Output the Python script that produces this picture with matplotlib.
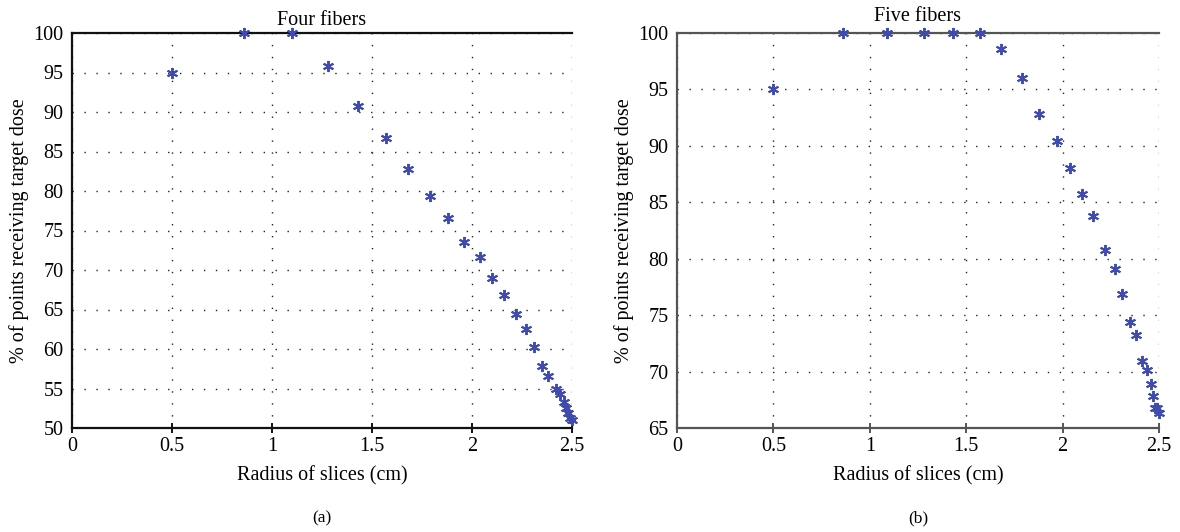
import matplotlib
matplotlib.use("Agg")
import matplotlib.pyplot as plt
import numpy as np

# ---- data ----
radius_four = [0.5, 0.86, 1.10, 1.28, 1.43, 1.57, 1.68, 1.79, 1.88, 1.96, 2.04, 2.10,
               2.16, 2.22, 2.27, 2.31, 2.35, 2.38, 2.42, 2.44, 2.46, 2.47, 2.48, 2.49, 2.50]
pct_four = [95.0, 100.0, 100.0, 95.8, 90.7, 86.7, 82.8, 79.4, 76.6, 73.6, 71.7, 69.0,
            66.8, 64.4, 62.5, 60.2, 57.9, 56.6, 55.0, 54.3, 53.3, 52.5, 51.9, 51.3, 51.0]

radius_five = [0.5, 0.86, 1.09, 1.28, 1.43, 1.57, 1.68, 1.79, 1.88, 1.97, 2.04, 2.10,
               2.16, 2.22, 2.27, 2.31, 2.35, 2.38, 2.41, 2.44, 2.46, 2.47, 2.48, 2.49, 2.50]
pct_five = [95.0, 100.0, 100.0, 100.0, 100.0, 100.0, 98.6, 96.0, 92.8, 90.4, 88.0, 85.7,
            83.8, 80.8, 79.1, 76.9, 74.4, 73.2, 70.9, 70.1, 68.9, 67.8, 66.8, 66.8, 66.3]

x_ticks = [0, 0.5, 1, 1.5, 2, 2.5]
x_ticklabels = ["0", "0.5", "1", "1.5", "2", "2.5"]
y_ticks_four = [50, 55, 60, 65, 70, 75, 80, 85, 90, 95, 100]
y_ticks_five = [65, 70, 75, 80, 85, 90, 95, 100]

titles = ["Four fibers", "Five fibers"]
xlabel = "Radius of slices (cm)"
ylabel = "% of points receiving target dose"
panel_labels = ["(a)", "(b)"]

plt.rcParams['font.family'] = ['Liberation Serif', 'DejaVu Serif']

fig = plt.figure(figsize=(11.8, 5.32), dpi=100)
W, H = 1180, 532
axA = fig.add_axes([72 / W, (H - 428) / H, 500 / W, 395 / H])
axB = fig.add_axes([677 / W, (H - 428) / H, 482 / W, 395 / H])

marker_color = '#3f4cae'
fs = 14.5

for ax, xs, ys, yt, title, spine_col, plab, tpad in [
        (axA, radius_four, pct_four, y_ticks_four, titles[0], '#111111', panel_labels[0], 6),
        (axB, radius_five, pct_five, y_ticks_five, titles[1], '#555555', panel_labels[1], 9)]:
    ax.plot(xs, ys, linestyle='none', marker=(6, 2, 0), markersize=8,
            markeredgewidth=1.4, color=marker_color, clip_on=False, zorder=5)
    ax.set_xlim(0, 2.5)
    ax.set_ylim(yt[0], yt[-1])
    ax.set_xticks(x_ticks)
    ax.set_xticklabels(x_ticklabels)
    ax.set_yticks(yt)
    ax.grid(True, color='#222222', linewidth=1.0, linestyle=(0, (1, 7.6)))
    ax.spines['right'].set_visible(False)
    for s in ['left', 'top', 'bottom']:
        ax.spines[s].set_color(spine_col)
        ax.spines[s].set_linewidth(1.6)
    ax.tick_params(axis='x', direction='inout', length=7, width=1.4, labelsize=fs,
                   color=spine_col, pad=3)
    ax.tick_params(axis='y', direction='in', length=0, labelsize=fs, pad=6)
    ax.set_title(title, fontsize=fs, pad=tpad)
    ax.set_xlabel(xlabel, fontsize=fs, labelpad=7)
    ax.set_ylabel(ylabel, fontsize=fs, labelpad=3)
    bb = ax.get_position()
    fig.text(bb.x0 + bb.width / 2, (H - 518) / H, plab, ha='center', va='center',
             fontsize=12.5)

fig.savefig("out.png", dpi=100)
